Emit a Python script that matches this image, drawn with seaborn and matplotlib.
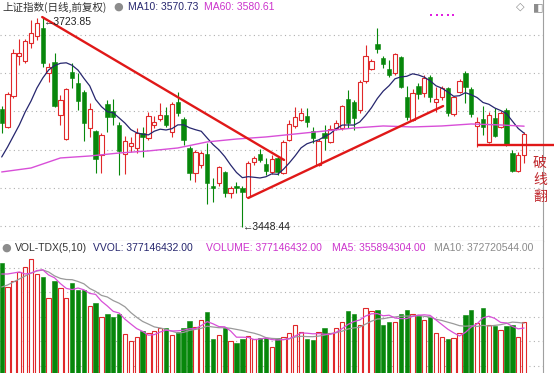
import seaborn as sns
import matplotlib.pyplot as plt
from matplotlib.lines import Line2D
import pandas as pd
import numpy as np

# ---------------------------------------------------------------
# Data (prices in index points, volume in 1e6)
# ---------------------------------------------------------------
opens = [3603.1, 3579.5, 3620.1, 3672.5, 3666.0, 3689.5, 3698.7, 3709.2, 3650.2, 3664.6,
         3595.3, 3563.9, 3651.6, 3637.2, 3625.4, 3578.2, 3574.3, 3542.9, 3609.7, 3600.5,
         3582.2, 3544.2, 3554.7, 3552.1, 3571.7, 3565.2, 3582.2, 3590.0, 3595.3, 3573.0,
         3612.3, 3590.0, 3552.1, 3519.3, 3529.8, 3544.2, 3502.3, 3506.3, 3520.7, 3493.2,
         3502.3, 3499.7, 3487.9, 3533.7, 3544.2, 3531.1, 3520.7, 3539.0, 3519.3, 3562.5,
         3580.9, 3588.7, 3593.9, 3574.3, 3529.8, 3571.7, 3559.9, 3578.2, 3578.2, 3616.2,
         3612.3, 3601.8, 3639.8, 3654.9, 3688.2, 3669.9, 3655.5, 3650.2, 3671.2, 3618.8,
         3588.7, 3633.2, 3624.1, 3645.0, 3612.3, 3618.8, 3630.6, 3596.6, 3625.4, 3650.2,
         3629.3, 3580.9, 3590.0, 3559.9, 3591.3, 3579.5, 3601.8, 3545.5, 3522.0, 3542.9]
highs = [3607.0, 3625.4, 3681.7, 3694.7, 3694.7, 3719.6, 3722.2, 3723.85, 3663.3, 3676.4,
         3621.4, 3630.6, 3663.3, 3650.2, 3628.0, 3611.0, 3576.0, 3571.7, 3614.9, 3616.2,
         3586.1, 3567.8, 3566.5, 3578.2, 3579.5, 3599.2, 3593.9, 3611.0, 3605.7, 3612.3,
         3625.4, 3592.6, 3554.7, 3549.5, 3548.2, 3558.6, 3512.8, 3528.5, 3522.0, 3502.3,
         3507.6, 3502.3, 3535.0, 3541.6, 3550.8, 3539.0, 3542.9, 3541.6, 3562.5, 3588.7,
         3605.7, 3604.4, 3604.4, 3579.5, 3563.8, 3582.2, 3582.2, 3588.7, 3608.4, 3628.0,
         3614.9, 3641.1, 3686.9, 3668.6, 3709.2, 3672.5, 3667.3, 3676.4, 3672.5, 3633.2,
         3629.3, 3637.2, 3647.6, 3647.6, 3631.9, 3633.2, 3631.9, 3620.1, 3642.4, 3652.9,
         3631.9, 3592.6, 3607.0, 3599.2, 3604.4, 3600.5, 3604.4, 3549.5, 3546.9, 3573.0]
lows = [3571.7, 3578.2, 3617.5, 3660.7, 3663.3, 3683.0, 3693.4, 3658.1, 3638.5, 3605.7,
        3582.2, 3562.5, 3630.6, 3601.8, 3561.2, 3566.5, 3519.3, 3519.3, 3573.0, 3582.2,
        3516.7, 3518.0, 3546.9, 3545.6, 3540.3, 3562.5, 3578.2, 3587.4, 3579.5, 3566.5,
        3593.9, 3556.0, 3510.2, 3507.6, 3525.9, 3478.8, 3481.4, 3502.3, 3487.9, 3486.6,
        3493.2, 3448.44, 3486.6, 3529.8, 3533.7, 3516.7, 3518.0, 3516.7, 3518.0, 3561.2,
        3578.2, 3587.4, 3579.5, 3558.6, 3528.5, 3549.5, 3558.6, 3575.6, 3575.6, 3578.2,
        3575.6, 3597.9, 3637.2, 3653.6, 3676.4, 3656.8, 3645.0, 3647.6, 3630.6, 3588.7,
        3587.4, 3616.2, 3618.8, 3612.3, 3599.2, 3614.9, 3593.9, 3593.9, 3624.1, 3611.0,
        3592.6, 3553.4, 3568.9, 3558.6, 3566.5, 3578.2, 3554.7, 3520.7, 3520.7, 3532.4]
closes = [3584.8, 3622.7, 3676.4, 3676.4, 3692.1, 3702.6, 3715.7, 3663.3, 3658.1, 3607.0,
          3614.9, 3629.3, 3643.7, 3613.6, 3584.8, 3603.1, 3537.7, 3569.1, 3592.6, 3592.6,
          3548.2, 3561.2, 3558.6, 3571.7, 3566.5, 3593.9, 3586.1, 3595.3, 3582.2, 3609.7,
          3597.9, 3562.5, 3519.3, 3546.9, 3545.6, 3506.3, 3499.7, 3527.2, 3493.2, 3499.7,
          3499.7, 3494.5, 3532.4, 3539.0, 3536.4, 3522.0, 3537.7, 3520.7, 3559.9, 3583.5,
          3592.6, 3597.9, 3586.1, 3565.2, 3561.2, 3565.2, 3577.0, 3584.8, 3607.1, 3584.8,
          3591.3, 3638.5, 3672.5, 3665.9, 3681.7, 3662.0, 3647.6, 3675.1, 3631.9, 3592.6,
          3624.1, 3622.7, 3643.7, 3618.8, 3616.2, 3630.6, 3597.9, 3618.8, 3639.8, 3631.9,
          3596.6, 3586.1, 3579.5, 3595.3, 3567.8, 3597.9, 3556.0, 3522.0, 3542.9, 3570.3]
volumes = [583.5, 499.5, 520.5, 552.0, 569.5, 597.5, 545.0, 534.5, 461.0, 520.5,
           496.0, 461.0, 513.5, 489.0, 489.0, 433.0, 443.5, 394.5, 405.0, 394.5,
           405.0, 335.0, 310.5, 324.5, 345.5, 338.5, 345.5, 356.0, 356.0, 331.5,
           342.0, 356.0, 380.5, 359.5, 384.0, 412.0, 317.5, 331.5, 356.0, 310.5,
           303.5, 317.5, 328.0, 317.5, 321.0, 321.0, 289.5, 321.0, 324.5, 338.5,
           366.5, 342.0, 317.5, 314.0, 342.0, 356.0, 338.5, 356.0, 377.0, 415.5,
           405.0, 366.5, 426.0, 415.5, 419.0, 366.5, 377.0, 377.0, 405.0, 419.0,
           405.0, 398.0, 384.0, 394.5, 338.5, 324.5, 317.5, 321.0, 338.5, 401.5,
           419.0, 373.5, 426.0, 366.5, 363.0, 349.0, 364.0, 365.0, 324.5, 377.15]

# moving averages for the first days (their history lies left of the window)
ma10_head = [3540.3, 3553.4, 3567.8, 3582.2, 3599.2, 3613.6, 3630.6, 3643.7, 3654.2]
vol_ma5_head = [545.0, 545.0, 548.5, 552.0]
vol_ma10_head = [499.5, 506.5, 517.0, 527.5, 538.0, 548.5, 555.5, 559.0, 552.0]
ma60_idx = [0, 5, 10, 15, 20, 25, 30, 35, 40, 45, 50, 55, 60, 65, 70, 75, 80, 85, 89]
ma60_vals = [3520.7, 3525.9, 3539.0, 3541.6, 3545.5, 3548.2, 3552.1, 3560.0, 3563.8, 3566.5,
             3570.4, 3574.3, 3578.2, 3580.9, 3579.6, 3580.9, 3583.5, 3582.2, 3580.61]

price_grid = [3450, 3500, 3550, 3600, 3650, 3700]
vol_grid = [223, 310, 395, 481, 566]

# hand-drawn trend lines (candle index, price)
down_line = ([6.9, 48.1], [3723.5, 3536.4])
up_line = ([42.0, 75.2], [3486.6, 3607.0])
break_line = ([81.1, 94.1], [3556.0, 3556.0])

# ---------------------------------------------------------------
df = pd.DataFrame({"open": opens, "high": highs, "low": lows,
                   "close": closes, "vol": volumes})
df["i"] = np.arange(len(df))
up = df["close"] >= df["open"]
dn = ~up

ma10 = df["close"].rolling(10).mean()
ma10.iloc[:len(ma10_head)] = ma10_head
vma5 = df["vol"].rolling(5).mean()
vma5.iloc[:len(vol_ma5_head)] = vol_ma5_head
vma10 = df["vol"].rolling(10).mean()
vma10.iloc[:len(vol_ma10_head)] = vol_ma10_head

sns.set_style("white")
plt.rcParams["font.family"] = ["Liberation Sans", "Noto Sans CJK SC", "DejaVu Sans"]

RED = "#e0282a"
GREEN = "#07870b"
NAVY = "#26266e"
PINK = "#d84fd8"
GREY_MA = "#9a9a9a"
GRID = "#b0b0b0"
FRAME = "#a0a0a0"

W, H = 554, 373
fig = plt.figure(figsize=(W / 100, H / 100), dpi=100)
sep, right = 241, 543
ax = fig.add_axes([0, 1 - sep / H, right / W, sep / H])
axv = fig.add_axes([0, 0, right / W, (H - sep) / H])

bw = 0.74
for a in (ax, axv):
    a.set_xlim(-0.29, 92.22)
    a.set_xticks([])
    a.set_yticks([])
    for s in a.spines.values():
        s.set_visible(False)
    a.spines["right"].set_visible(True)
    a.spines["right"].set_color(FRAME)
ax.spines["bottom"].set_visible(True)
ax.spines["bottom"].set_color(FRAME)
ax.set_ylim(3430.3, 3745.8)
axv.set_ylim(198.5, 660.5)

for p in price_grid:
    ax.axhline(p, color=GRID, lw=0.8, ls=(0, (1, 3)), zorder=0)
for v in vol_grid:
    axv.axhline(v, color=GRID, lw=0.8, ls=(0, (1, 3)), zorder=0)

# --- candles ---
ax.vlines(df["i"][dn], df["low"][dn], df["high"][dn], color=GREEN, lw=0.8, zorder=2)
ax.bar(df["i"][dn], df["open"][dn] - df["close"][dn], bottom=df["close"][dn], width=bw,
       color=GREEN, edgecolor=GREEN, lw=0.4, zorder=3)
ax.vlines(df["i"][up], df["close"][up], df["high"][up], color=RED, lw=0.8, zorder=2)
ax.vlines(df["i"][up], df["low"][up], df["open"][up], color=RED, lw=0.8, zorder=2)
ax.bar(df["i"][up], df["close"][up] - df["open"][up], bottom=df["open"][up], width=bw,
       facecolor="white", edgecolor=RED, lw=0.8, zorder=3)

sns.lineplot(x=df["i"], y=ma10, ax=ax, color=NAVY, lw=0.9, zorder=4)
sns.lineplot(x=ma60_idx, y=ma60_vals, ax=ax, color=PINK, lw=1.0, zorder=4)

for xs, ys in (down_line, up_line, break_line):
    ax.plot(xs, ys, color="#e01818", lw=1.7, zorder=6, clip_on=False)

hi = int(np.argmax(highs))
lo = int(np.argmin(lows))
ax.text(hi + 0.15, highs[hi], "\u2190" + f"{highs[hi]:.2f}", fontsize=7.5, color="#222222",
        va="top", ha="left", zorder=7)
ax.text(lo + 0.1, lows[lo], "\u2190" + f"{lows[lo]:.2f}", fontsize=7.5, color="#222222",
        va="center", ha="left", zorder=7)

# --- volume ---
axv.bar(df["i"][dn], df["vol"][dn], width=bw, color=GREEN, edgecolor=GREEN, lw=0.4, zorder=2)
axv.bar(df["i"][up], df["vol"][up], width=bw, facecolor="white", edgecolor=RED, lw=0.8, zorder=2)
sns.lineplot(x=df["i"], y=vma10, ax=axv, color=GREY_MA, lw=0.9, zorder=4)
sns.lineplot(x=df["i"], y=vma5, ax=axv, color=PINK, lw=0.9, zorder=4)
for a in (ax, axv):
    a.set_xlabel("")
    a.set_ylabel("")

# --- header texts ---
def ftext(xp, yp, s, **kw):
    fig.text(xp / W, 1 - yp / H, s, va="center", ha="left", **kw)

ftext(2, 7, "上证指数(日线,前复权)", fontsize=7.6, color="#333333",
      family=["Noto Sans CJK SC", "DejaVu Sans"])
ftext(113, 7, "\u25cf", fontsize=8, color="#8c8c8c", family=["DejaVu Sans"])
ftext(128, 7, "MA10: 3570.73", fontsize=7.5, color=NAVY)
ftext(204, 7, "MA60: 3580.61", fontsize=7.5, color="#cc33cc")
ftext(516, 7, "\u25c7", fontsize=8, color="#8c8c8c", family=["DejaVu Sans"])
ftext(533, 7, "\u25e7", fontsize=8, color="#8c8c8c", family=["DejaVu Sans"])

ftext(1, 248, "\u25cf", fontsize=8, color="#8c8c8c", family=["DejaVu Sans"])
ftext(15, 248, "VOL-TDX(5,10)", fontsize=7.5, color="#333333")
ftext(93, 248, "VVOL: 377146432.00", fontsize=7.5, color=NAVY)
ftext(206, 248, "VOLUME: 377146432.00", fontsize=7.5, color="#cc33cc")
ftext(332, 248, "MA5: 355894304.00", fontsize=7.5, color="#cc33cc")
ftext(434, 248, "MA10: 372720544.00", fontsize=7.5, color="#8a8a8a")

fig.add_artist(Line2D([431 / W, 436.5 / W, 442 / W, 447.5 / W, 453 / W], [1 - 15 / H] * 5,
                      transform=fig.transFigure, ls="none", marker="s", ms=1.8, mew=0,
                      color="#e020e0"))

fig.text(540 / W, 1 - 180 / H, "破\n线\n翻", fontsize=10, color="#c0282d", ha="center",
         va="center", linespacing=1.25, family=["Noto Sans CJK SC", "DejaVu Sans"])

plt.savefig("out.png", dpi=100)
plt.close()
